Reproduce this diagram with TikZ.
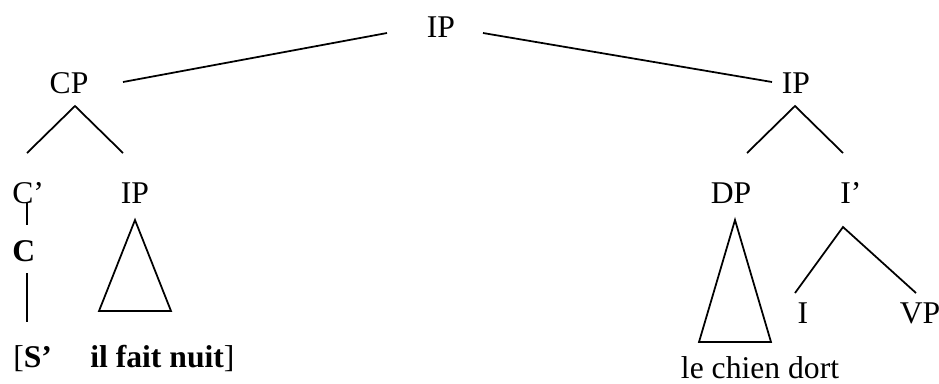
\documentclass[tikz,border=0pt]{standalone}
\usepackage{fontspec}
\setmainfont{Liberation Serif}
\begin{document}
\begin{tikzpicture}[x=0.02cm,y=-0.02cm]
        \tikzstyle{cat} = [anchor=base,inner sep=0pt,font=\fontsize{18}{22}\selectfont]
        \tikzstyle{branch} = [line width=1pt]
        \useasboundingbox (0,0) rectangle (939,383);
        \foreach \l/\x/\y/\t in {top/441/37/IP, cp/69/93/CP, ip/796/93/IP,
          ipc/135/203/IP, dp/731/203/DP, i/803/323/I, vp/920/323/VP} {
          \node[cat] (\l) at (\x,\y) {\t};
        }
        \node[cat,anchor=base west] (cbar) at (12,203) {C’};
        \node[cat,anchor=base west] (ibar) at (840,203) {I’};
        \node[cat,anchor=base west,font=\fontsize{18}{22}\selectfont\bfseries] (c) at (12,261) {C};
        \node[cat,anchor=base west] (s) at (13,367) {[\textbf{S’}};
        \node[cat,anchor=base west] (nuit) at (90,367) {\textbf{il fait nuit}]};
        \node[cat] (chien) at (760,378) {le chien dort};

        % branch ends
        \foreach \l/\x/\y in {topl/387/33, topr/483/33, cpr/123/82, ipl/772/82,
          cpa/75/106, cpl/27/153, cpb/123/153,
          ipa/795/106, ipd/747/153, ipb/843/153,
          cb1/27/203, cb2/27/225, c1/27/273, c2/27/322,
          ta/135/220, tl/99/311, tr/171/311,
          da/735/220, dl/699/342, dr/771/342,
          ia/843/227, il/795/293, ir/916/293} {
          \coordinate (\l) at (\x,\y);
        }

        \draw[branch] (topl) -- (cpr);
        \draw[branch] (topr) -- (ipl);
        \draw[branch] (cpl) -- (cpa) -- (cpb);
        \draw[branch] (ipd) -- (ipa) -- (ipb);
        \draw[branch] (cb1) -- (cb2);
        \draw[branch] (c1) -- (c2);
        \draw[branch] (ta) -- (tl) -- (tr) -- cycle;
        \draw[branch] (da) -- (dl) -- (dr) -- cycle;
        \draw[branch] (il) -- (ia) -- (ir);
\end{tikzpicture}
\end{document}
